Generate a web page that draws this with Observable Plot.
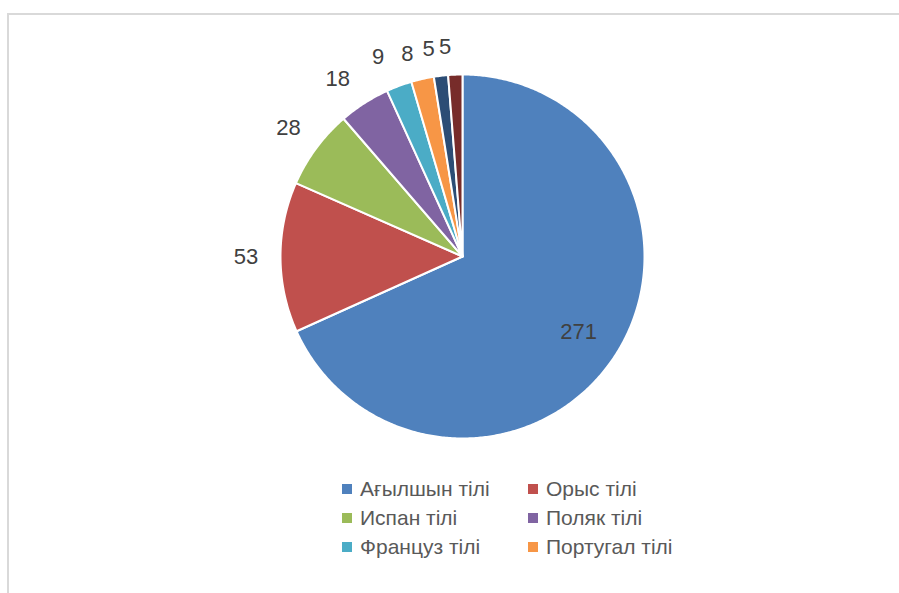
<!DOCTYPE html>
<html>
<head>
<meta charset="utf-8">
<script src="https://cdn.jsdelivr.net/npm/d3@7"></script>
<script src="https://cdn.jsdelivr.net/npm/@observablehq/plot@0.6"></script>
<style>
  html, body { margin: 0; padding: 0; background: #fff; }
  #wrap { position: relative; width: 899px; height: 593px; overflow: hidden; font-family: "Liberation Sans", "DejaVu Sans", sans-serif; }
  #frame { position: absolute; left: 7px; top: 13px; width: 1000px; height: 700px; border-left: 2px solid #d9d9d9; border-top: 2px solid #d9d9d9; }
  #chart { position: absolute; left: 0; top: 0; }
  #legend { position: absolute; left: 342px; top: 474px; display: grid; grid-template-columns: 186px 200px; row-gap: 0; }
  .item { display: flex; align-items: center; height: 29px; font-size: 21px; color: #595959; white-space: nowrap; }
  .sw { width: 10px; height: 10px; margin-right: 8px; flex: none; }
</style>
</head>
<body>
<div id="wrap">
  <div id="frame"></div>
  <div id="chart"></div>
  <div id="legend"></div>
</div>
<script>
const names = ["Ағылшын тілі", "Орыс тілі", "Испан тілі", "Поляк тілі", "Француз тілі", "Португал тілі", "Неміс тілі", "Итальян тілі"];
const values = [271, 53, 28, 18, 9, 8, 5, 5];
const colors = ["#4F81BD", "#C0504D", "#9BBB59", "#8064A2", "#4BACC6", "#F79646", "#2C4D75", "#772C2A"];
const legendNames = names.slice(0, 6);

const cx = 462, cy = 256, r = 182;

const arcs = d3.pie().sort(null).startAngle(0).endAngle(2 * Math.PI)(values)
  .map((a, i) => ({...a, name: names[i]}));

// slice outlines built from the pie angles
const pts = [];
for (const a of arcs) {
  pts.push({name: a.name, x: 0, y: 0});
  const n = Math.max(2, Math.ceil((a.endAngle - a.startAngle) / (Math.PI / 360)));
  for (let k = 0; k <= n; k++) {
    const t = a.startAngle + (a.endAngle - a.startAngle) * k / n;
    pts.push({name: a.name, x: Math.sin(t), y: Math.cos(t)});
  }
  pts.push({name: a.name, x: 0, y: 0});
}

// outside-end labels; crowded small ones nudged counter-clockwise a little, as Excel does
const deg = Math.PI / 180;
const labels = arcs.map(a => {
  let m = (a.startAngle + a.endAngle) / 2;
  const inside = a.value > 100;
  if (!inside && m > 315 * deg) m -= 2.5 * deg;
  const k = inside ? 0.76 : (m > 340 * deg ? 1.155 : 1.19);
  return {name: a.name, value: a.value, x: k * Math.sin(m), y: k * Math.cos(m)};
});

const chart = Plot.plot({
  width: 899,
  height: 460,
  margin: 0,
  style: {fontFamily: "Liberation Sans, DejaVu Sans, sans-serif", background: "transparent"},
  x: {domain: [-1, 1], range: [cx - r, cx + r], axis: null},
  y: {domain: [-1, 1], range: [cy + r, cy - r], axis: null},
  color: {type: "ordinal", domain: names, range: colors},
  marks: [
    Plot.line(pts, {x: "x", y: "y", z: "name", fill: "name", stroke: "white", strokeWidth: 2, strokeLinejoin: "round", curve: "linear"}),
    Plot.text(labels, {x: "x", y: "y", text: d => String(d.value), fill: "#404040", fontSize: 22})
  ]
});
document.getElementById("chart").appendChild(chart);

const leg = document.getElementById("legend");
legendNames.forEach((n) => {
  const it = document.createElement("div");
  it.className = "item";
  const sw = document.createElement("span");
  sw.className = "sw";
  sw.style.background = colors[names.indexOf(n)];
  it.appendChild(sw);
  it.appendChild(document.createTextNode(n));
  leg.appendChild(it);
});
</script>
</body>
</html>
